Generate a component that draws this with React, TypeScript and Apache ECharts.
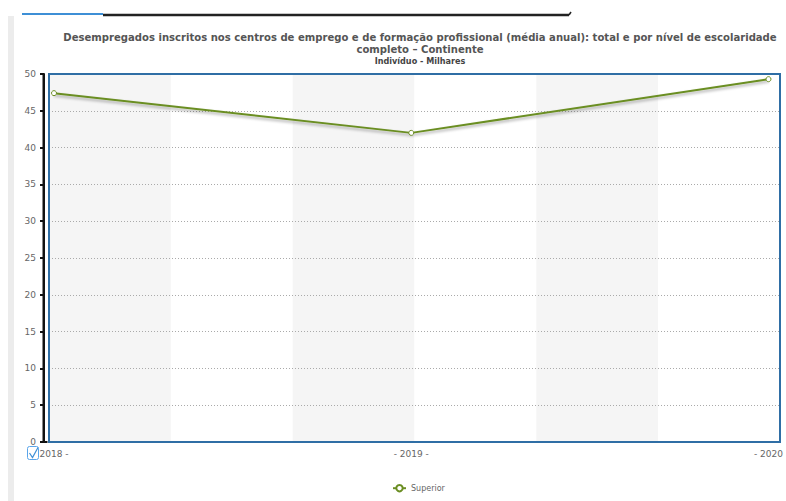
import React, { useEffect, useRef } from "react";
import * as echarts from "echarts";

const years = ["2018", "2019", "2020"];
const superior = [47.4, 42.0, 49.3];
const yearLabels = ["2018 -", "- 2019 -", "- 2020"];
const titleLine1 =
  "Desempregados inscritos nos centros de emprego e de formação profissional (média anual): total e por nível de escolaridade";
const titleLine2 = "completo – Continente";
const subTitle = "Indivíduo - Milhares";
const seriesName = "Superior";

export default function App() {
  const ref = useRef<HTMLDivElement>(null);
  useEffect(() => {
    if (!ref.current) return;
    const chart = echarts.init(ref.current, undefined, { renderer: "svg" });
    const green = "#6b8e23";
    const font = "'DejaVu Sans Condensed', 'DejaVu Sans', sans-serif";
    const small = "Verdana, 'DejaVu Sans', sans-serif";
    chart.setOption({
      animation: false,
      backgroundColor: "#ffffff",
      title: {
        text: titleLine1 + "\n" + titleLine2,
        subtext: subTitle,
        left: 415,
        top: 26,
        textAlign: "center",
        itemGap: 1,
        textStyle: {
          fontFamily: font,
          fontWeight: "bold",
          fontSize: 11.2,
          color: "#555555",
          lineHeight: 12,
        },
        subtextStyle: {
          fontFamily: font,
          fontWeight: "bold",
          fontSize: 9,
          color: "#444444",
        },
      },
      legend: {
        left: 387,
        top: 479,
        itemWidth: 13,
        itemHeight: 8,
        itemGap: 4,
        textStyle: { fontSize: 8, color: "#666666", fontFamily: small },
        data: [seriesName],
      },
      grid: [
        {
          left: 49,
          right: 6,
          top: 74,
          bottom: 59,
          show: true,
          borderColor: "#2f6ea5",
          borderWidth: 2,
          backgroundColor: "transparent",
          z: 3,
        },
        { left: 54, right: 11, top: 74, bottom: 59 },
      ],
      xAxis: [
        {
          gridIndex: 0,
          type: "value",
          min: 0,
          max: 6,
          interval: 1,
          z: 0,
          axisLabel: { show: false },
          axisLine: { show: false },
          axisTick: { show: false },
          splitLine: { show: false },
          splitArea: { show: true, areaStyle: { color: ["#f5f5f5", "#ffffff"] } },
        },
        {
          gridIndex: 1,
          type: "category",
          boundaryGap: false,
          data: years,
          axisLine: { show: false },
          axisTick: { show: false },
          axisLabel: {
            margin: 7,
            fontSize: 9,
            color: "#666666",
            fontFamily: small,
            formatter: (_v: string, i: number) => yearLabels[i],
          },
        },
      ],
      yAxis: [
        {
          gridIndex: 0,
          type: "value",
          min: 0,
          max: 50,
          interval: 5,
          offset: 5,
          z: 2,
          axisLine: { show: true, onZero: false, lineStyle: { color: "#111111", width: 2 } },
          axisTick: { show: true, length: 4, lineStyle: { color: "#111111", width: 2 } },
          axisLabel: {
            fontSize: 9,
            color: "#666666",
            margin: 8,
            fontFamily: small,
          },
          splitLine: { show: true, lineStyle: { color: "#aaaaaa", type: [1, 2], width: 1 } },
        },
        {
          gridIndex: 1,
          type: "value",
          min: 0,
          max: 50,
          show: false,
        },
      ],
      series: [
        {
          name: seriesName,
          type: "line",
          xAxisIndex: 1,
          yAxisIndex: 1,
          data: superior,
          symbol: "circle",
          symbolSize: 5,
          showSymbol: true,
          z: 5,
          lineStyle: {
            color: green,
            width: 2,
            shadowColor: "rgba(0,0,0,0.35)",
            shadowBlur: 3,
            shadowOffsetY: 2,
          },
          itemStyle: { color: "#ffffff", borderColor: green, borderWidth: 1 },
        },
      ],
      graphic: [
        { type: "rect", shape: { x: 8, y: 16, width: 6, height: 490 }, style: { fill: "#ececec" } },
        { type: "line", shape: { x1: 22, y1: 14, x2: 103, y2: 14 }, style: { stroke: "#3d8fd6", lineWidth: 2 } },
        { type: "line", shape: { x1: 103, y1: 15, x2: 569, y2: 15 }, style: { stroke: "#222222", lineWidth: 2.5 } },
        { type: "line", shape: { x1: 569, y1: 15, x2: 571, y2: 12 }, style: { stroke: "#222222", lineWidth: 1.5 } },
        { type: "rect", z: 100, shape: { x: 42.5, y: 74, width: 2.5, height: 369 }, style: { fill: "#111111" } },
        { type: "rect", z: 100, shape: { x: 42.5, y: 441, width: 5, height: 2 }, style: { fill: "#111111" } },
        {
          type: "rect",
          shape: { x: 27.5, y: 446.5, width: 11, height: 13, r: 2 },
          style: { fill: "#ffffff", stroke: "#5aa5ea", lineWidth: 1 },
        },
        {
          type: "polyline",
          shape: { points: [[29.5, 453], [32.5, 457.5], [38, 447.5]] },
          style: { stroke: "#3d8fd6", lineWidth: 1.2, fill: null },
        },
      ],
    });
    return () => chart.dispose();
  }, []);
  return (
    <div
      ref={ref}
      style={{ position: "fixed", left: 0, top: 0, width: 786, height: 501 }}
    />
  );
}
